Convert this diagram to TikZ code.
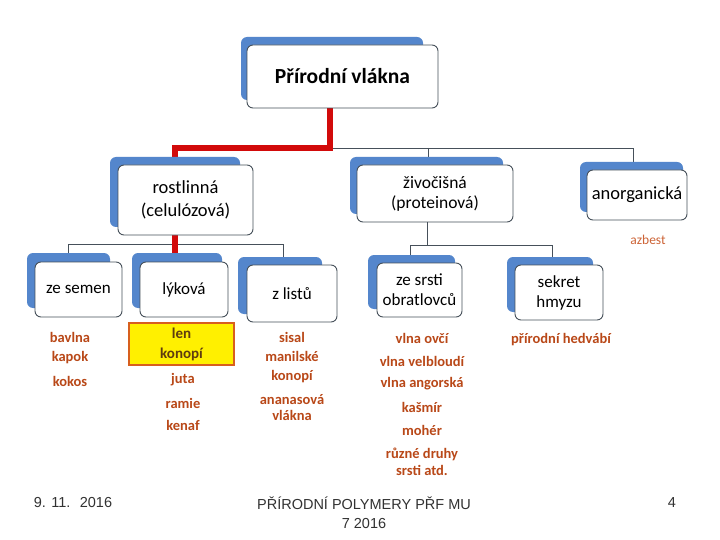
\documentclass[tikz,border=0pt]{standalone}
\usepackage{fontspec}
\setmainfont{Carlito}
\newfontfamily\footfont{Liberation Sans}
\definecolor{bluebk}{RGB}{84,134,204}
\definecolor{framegray}{RGB}{70,80,90}
\definecolor{redln}{RGB}{210,10,10}
\definecolor{itemcol}{RGB}{185,72,24}
\definecolor{azcol}{RGB}{205,100,55}
\definecolor{yelfill}{RGB}{255,240,0}
\definecolor{yelbord}{RGB}{215,95,30}
\definecolor{yeltext}{RGB}{95,60,15}
\definecolor{foottext}{RGB}{50,50,50}
\begin{document}
\begin{tikzpicture}[x=1pt,y=-1pt,
  back/.style={fill=bluebk, rounded corners=6pt},
  front/.style={fill=white, draw=framegray, line width=0.9pt, rounded corners=6pt,
    align=center, inner sep=0pt, text=black},
  redline/.style={draw=redln, line width=5.5pt},
  grayline/.style={draw=framegray, line width=0.9pt},
  item/.style={text=itemcol, font=\bfseries\fontsize{14.5}{17}\selectfont, align=center, inner sep=0pt},
  foot/.style={text=foottext, font=\footfont\fontsize{14.5}{19}\selectfont, align=center, inner sep=0pt}]
\useasboundingbox (0,0) rectangle (720,540);
\fill[white] (0,0) rectangle (720,540);

% junction coordinates
\coordinate (j1) at (330,148);
\coordinate (j2) at (175,148);
\coordinate (j3) at (428,148);
\coordinate (j4) at (633,148);
\coordinate (k1) at (175,244);
\coordinate (k2) at (68,244);
\coordinate (k3) at (283,244);
\coordinate (m1) at (427,245);
\coordinate (m2) at (410,245);
\coordinate (m3) at (552,245);

% anchor nodes for the boxes
\path node[minimum width=191, minimum height=63] (title) at (342.5,76.5) {};
\path node[minimum width=135, minimum height=70] (rost) at (185.5,200) {};
\path node[minimum width=156, minimum height=57] (ziv) at (435,193.5) {};
\path node[minimum width=100, minimum height=50] (anorg) at (637,195) {};
\path node[minimum width=87, minimum height=55] (zes) at (78.5,289.5) {};
\path node[minimum width=88, minimum height=55] (lyk) at (184,289.5) {};
\path node[minimum width=90, minimum height=57] (zli) at (292,293.5) {};
\path node[minimum width=85, minimum height=54] (zsr) at (419.5,290) {};
\path node[minimum width=88, minimum height=55] (sek) at (559,292.5) {};

% connectors
\draw[grayline] (j1) -- (j4) -- (anorg.north -| j4);
\draw[grayline] (j3) -- (ziv.north -| j3);
\draw[redline] (title.south -| j1) -- (j1) -- (j2) -- (rost.north -| j2);
\draw[grayline] (k2) -- (k3);
\draw[grayline] (k2) -- (zes.north -| k2);
\draw[grayline] (k3) -- (zli.north -| k3);
\draw[redline] (rost.south -| k1) -- (lyk.north -| k1);
\draw[grayline] (ziv.south -| m1) -- (m1);
\draw[grayline] (m2) -- (m3);
\draw[grayline] (m2) -- (zsr.north -| m2);
\draw[grayline] (m3) -- (sek.north -| m3);

% blue back plates
\fill[back] (241,37) rectangle (423,100);
\fill[back] (110,157) rectangle (240,227);
\fill[back] (350,157) rectangle (503,214);
\fill[back] (580,162) rectangle (683,212);
\fill[back] (27,253) rectangle (110,308);
\fill[back] (132,253) rectangle (222,308);
\fill[back] (238,257) rectangle (322,314);
\fill[back] (368,255) rectangle (455,309);
\fill[back] (507,257) rectangle (593,312);

% front boxes
\node[front, minimum width=191, minimum height=63, font=\bfseries\fontsize{21.5}{24}\selectfont] at (title) {Přírodní vlákna};
\node[front, minimum width=135, minimum height=70, font=\fontsize{18.5}{23}\selectfont] at (rost) {rostlinná\\(celulózová)};
\node[front, minimum width=156, minimum height=57, font=\fontsize{17.5}{20}\selectfont] at (ziv) {živočišná\\(proteinová)};
\node[front, minimum width=100, minimum height=50, font=\fontsize{18.5}{22}\selectfont] at (anorg) {anorganická};
\node[front, minimum width=87, minimum height=55, font=\fontsize{17}{20}\selectfont] at (zes) {ze semen};
\node[front, minimum width=88, minimum height=55, font=\fontsize{17}{20}\selectfont] at (lyk) {\raisebox{2pt}{lýková}};
\node[front, minimum width=90, minimum height=57, font=\fontsize{17}{20}\selectfont] at (zli) {z listů};
\node[front, minimum width=85, minimum height=54, font=\fontsize{17}{20}\selectfont] at (zsr) {ze srsti\\obratlovců};
\node[front, minimum width=88, minimum height=55, font=\fontsize{17}{20}\selectfont] at (sek) {sekret\\hmyzu};

% azbest
\node[inner sep=0pt, text=azcol, font=\fontsize{13.5}{16}\selectfont] (azb) at (648,240) {azbest};

% lists
\node[item] (bav) at (70,337) {bavlna};
\node[item] (kap) at (70,358) {kapok};
\node[item] (kok) at (70,381) {kokos};

\node[draw=yelbord, fill=yelfill, line width=2pt, minimum width=105, minimum height=42,
  align=center, inner sep=0pt, text=yeltext, font=\bfseries\fontsize{15}{20}\selectfont] (yel) at (181.5,344) {len\\konopí};
\node[item] (jut) at (183,380) {juta};
\node[item] (ram) at (183,403) {ramie};
\node[item] (ken) at (183,425) {kenaf};

\node[item] (sis) at (292,337) {sisal};
\node[item, font=\bfseries\fontsize{14.5}{19}\selectfont] (man) at (292,367.5) {manilské\\konopí};
\node[item, font=\bfseries\fontsize{14.5}{15.5}\selectfont] (ana) at (292,407.5) {ananasová\\vlákna};

\node[item] (vov) at (422,338) {vlna ovčí};
\node[item] (vve) at (422,361) {vlna velbloudí};
\node[item] (van) at (422,384) {vlna angorská};
\node[item] (kas) at (422,407) {kašmír};
\node[item] (moh) at (422,430) {mohér};
\node[item, font=\bfseries\fontsize{14.5}{17}\selectfont] (ruz) at (422,461.5) {různé druhy\\srsti atd.};

\node[item] (hed) at (561,340) {přírodní hedvábí};

% footer
\node[foot] (f1) at (73,503) {9. 11. \ 2016};
\node[foot] (f2) at (364,512.5) {PŘÍRODNÍ POLYMERY PŘF MU\\7 2016};
\node[foot] (f3) at (672,503) {4};
\end{tikzpicture}
\end{document}
